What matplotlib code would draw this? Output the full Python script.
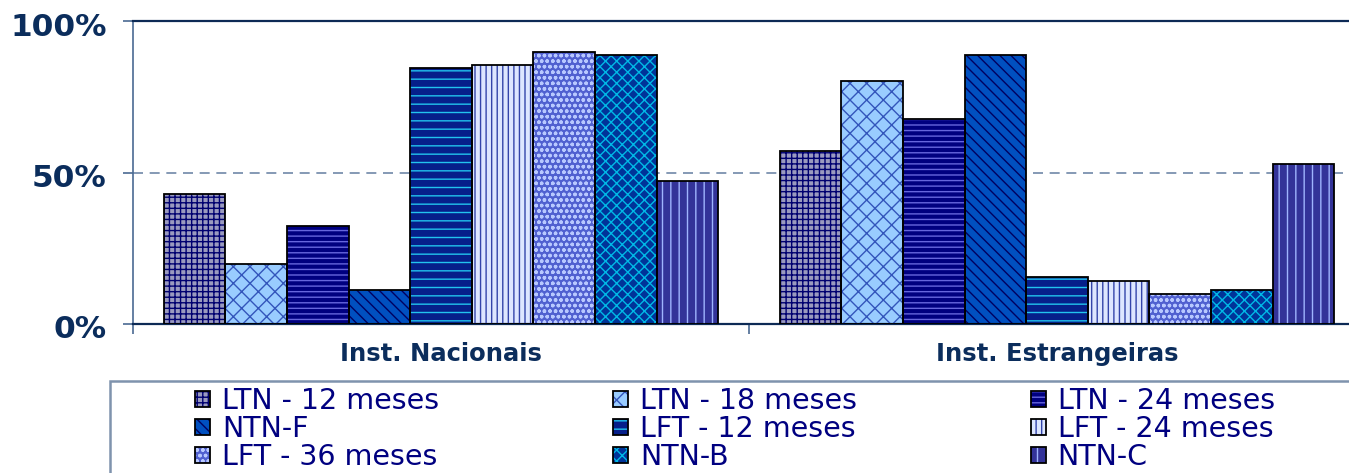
import matplotlib
matplotlib.use("Agg")
import matplotlib.pyplot as plt
import matplotlib.patches as mpatches
import matplotlib.transforms as mtransforms
import numpy as np

categories = ["Inst. Nacionais", "Inst. Estrangeiras"]
series = ["LTN - 12 meses", "LTN - 18 meses", "LTN - 24 meses", "NTN-F",
          "LFT - 12 meses", "LFT - 24 meses", "LFT - 36 meses", "NTN-B", "NTN-C"]
nacionais = [42.9, 19.8, 32.2, 11.1, 84.4, 85.6, 89.9, 88.8, 47.1]
estrangeiras = [57.2, 80.3, 67.7, 88.9, 15.5, 14.2, 9.9, 11.1, 52.8]
yticks = [0, 50, 100]
ytick_labels = ["0%", "50%", "100%"]

face_colors = ["#9a9abf", "#99ccff", "#000080", "#0050c0", "#061f8a",
               "#dde6ff", "#5060d0", "#003399", "#333399"]
hatch_colors = ["#000070", "#3355bb", "#6666dd", "#000060", "#22c4ee",
                "#3344aa", "#b8c8ff", "#00b8e6", "#9fb4ff"]
hatches = ["+++", "xx", "---", "\\\\\\", "--", "|||", "ooo", "xxx", "||"]

navy_text = "#0b2d5c"
plt.rcParams["hatch.linewidth"] = 1.0

fig = plt.figure(figsize=(13.49, 4.73), dpi=100)
ax = fig.add_axes([133 / 1349, 149 / 473, 1232 / 1349, 303 / 473])

data = np.array([nacionais, estrangeiras])  # shape (2, 9)
n = len(series)
w = 1.0 / (n + 1)
x = np.arange(len(categories))
handles = []
for i in range(n):
    pos = x - 0.5 + w + w * i
    vals = data[:, i]
    b1 = ax.bar(pos, vals, w, color=face_colors[i], linewidth=0, zorder=2)
    b2 = ax.bar(pos, vals, w, facecolor="none", edgecolor=hatch_colors[i],
                hatch=hatches[i], linewidth=0, zorder=3)
    b3 = ax.bar(pos, vals, w, facecolor="none", edgecolor="black",
                linewidth=1.3, zorder=4)
    handles.append((b1, b2, b3))

ax.set_xlim(-0.5, 1.5)
ax.set_ylim(0, 100)
ax.set_yticks(yticks)
ax.set_yticklabels(ytick_labels, fontsize=22.5, fontweight="bold", color=navy_text)
ax.tick_params(axis="y", length=7, width=1.2, color="#4a6a92", pad=12)
shift = mtransforms.ScaledTranslation(0, -3 / 100, fig.dpi_scale_trans)
for lbl in ax.get_yticklabels():
    lbl.set_transform(lbl.get_transform() + shift)

ax.set_xticks([-0.5, 0.5, 1.5])
ax.set_xticklabels(["", "", ""])
ax.set_xticks(x, minor=True)
ax.set_xticklabels(categories, minor=True, fontsize=17.5, fontweight="bold",
                   color=navy_text)
ax.tick_params(axis="x", which="major", length=7, width=1.2, color="#4a6a92")
ax.tick_params(axis="x", which="minor", length=0, pad=13)

ax.yaxis.grid(True, linestyle=(0, (6, 4)), color="#6f88a8", linewidth=1.2)
ax.set_axisbelow(True)

for s in ["top", "bottom"]:
    ax.spines[s].set_color("#0d2a55")
    ax.spines[s].set_linewidth(1.6)
ax.spines["left"].set_color("#4a6a92")
ax.spines["left"].set_linewidth(1.2)
ax.spines["right"].set_visible(False)

# legend box (extends past the figure edge as in the reference)
fig.patches.append(mpatches.Rectangle((110 / 1349, -0.2), 1.0, 0.2 + 92 / 473,
                                      transform=fig.transFigure, facecolor="none",
                                      edgecolor="#7f93ad", linewidth=1.8))

order = [0, 3, 6, 1, 4, 7, 2, 5, 8]
leg = fig.legend([handles[k] for k in order], [series[k] for k in order],
                 ncol=3, loc="upper left", bbox_to_anchor=(195 / 1349, 1 - 387 / 473),
                 frameon=False, fontsize=20.5, handlelength=0.53, handleheight=0.53,
                 handletextpad=0.42, columnspacing=6.1, labelspacing=0.0,
                 borderpad=0, borderaxespad=0)
for t in leg.get_texts():
    t.set_color("#000080")

fig.savefig("out.png", dpi=100, facecolor="white")
